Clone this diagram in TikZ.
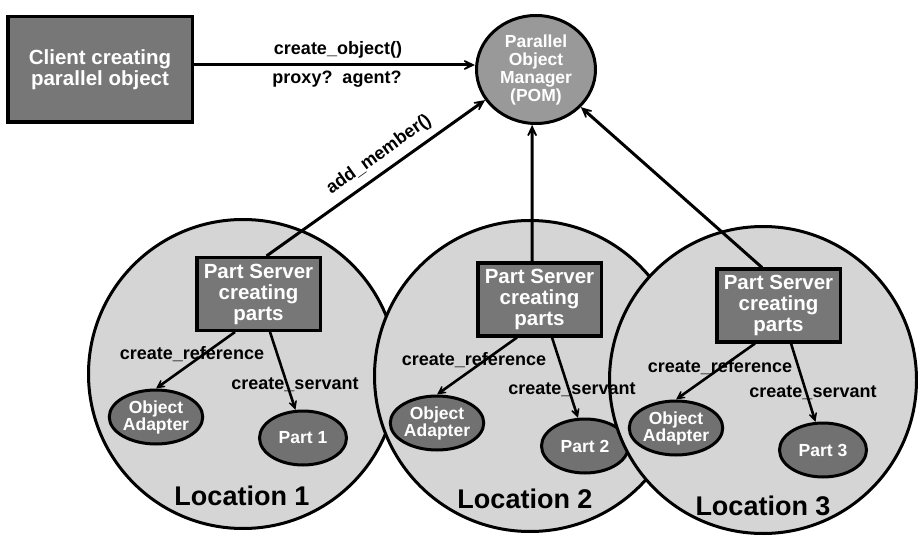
\documentclass[tikz,border=0pt]{standalone}
\usepackage{fontspec}
\setmainfont{Liberation Sans}
\usetikzlibrary{shapes.geometric,arrows.meta,calc}
\definecolor{locfill}{HTML}{D5D5D5}
\definecolor{boxfill}{HTML}{777777}
\definecolor{pomfill}{HTML}{999999}
\definecolor{ellfill}{HTML}{717171}
\begin{document}
\begin{tikzpicture}[x=1pt,y=-1pt,
  bigarr/.style={line width=3pt,-{Stealth[length=18pt,width=17pt,inset=12pt]}},
  smallarr/.style={line width=2.6pt,-{Stealth[length=14pt,width=14pt,inset=9pt]}},
  darkbox/.style={draw=black,line width=3.5pt,fill=boxfill,text=white,inner sep=0pt,align=center,
    font=\fontsize{20.5}{21}\selectfont\bfseries},
  loccircle/.style={circle,draw=black,line width=3pt,fill=locfill,inner sep=0pt},
  smallell/.style={ellipse,draw=black,line width=3pt,fill=ellfill,text=white,inner sep=0pt,align=center,
    minimum width=87pt,minimum height=54pt,font=\fontsize{17.5}{17}\selectfont\bfseries},
  lbl/.style={font=\fontsize{18}{18}\selectfont\bfseries,inner sep=0pt},
  loclbl/.style={font=\fontsize{27}{27}\selectfont\bfseries,anchor=base,inner sep=0pt}]
\useasboundingbox[fill=white] (0,0) rectangle (918,537);

% client and POM
\node[darkbox,minimum width=184.5pt,minimum height=105.5pt] (client) at (100,69.5) {Client creating\\parallel object};
\node[ellipse,draw=black,line width=3pt,fill=pomfill,text=white,inner sep=0pt,align=center,
  minimum width=119pt,minimum height=108pt,font=\fontsize{17.5}{18}\selectfont\bfseries] (pom) at (536,69.5)
  {Parallel\\Object\\Manager\\(POM)};

% Location 1
\node[loccircle,minimum size=309pt] (loc1) at (243,374) {};
\node[darkbox,minimum width=123.5pt,minimum height=72.5pt] (ps1) at (258.5,294) {Part Server\\creating\\parts};
\node[smallell] (oa1) at (156,417) {Object\\Adapter};
\node[smallell] (p1) at (303,438) {Part 1};
\node[loclbl] (l1) at (242,505) {Location 1};
\draw[smallarr] ($(ps1.south)+(-23.5,0)$) -- (oa1.north);
\draw[smallarr] ($(ps1.south)+(11.5,0)$) -- (p1.105);

% Location 2
\node[loccircle,minimum size=311pt] (loc2) at (530,376) {};
\node[darkbox,minimum width=123.5pt,minimum height=72.5pt] (ps2) at (539.5,299.5) {Part Server\\creating\\parts};
\node[smallell] (oa2) at (437,423) {Object\\Adapter};
\node[smallell] (p2) at (585,446) {Part 2};
\node[loclbl] (l2) at (525,508) {Location 2};
\draw[smallarr] ($(ps2.south)+(-22.5,0)$) -- (oa2.north);
\draw[smallarr] ($(ps2.south)+(12.5,0)$) -- (p2.104);

% Location 3
\node[loccircle,minimum size=307pt] (loc3) at (763,380) {};
\node[darkbox,minimum width=123.5pt,minimum height=72.5pt] (ps3) at (778.5,305.5) {Part Server\\creating\\parts};
\node[smallell] (oa3) at (676,428) {Object\\Adapter};
\node[smallell] (p3) at (823,450) {Part 3};
\node[loclbl] (l3) at (763,515) {Location 3};
\draw[smallarr] ($(ps3.south)+(-23.5,0)$) -- (oa3.north);
\draw[smallarr] ($(ps3.south)+(12.5,0)$) -- (p3.105);

% labels of the inner connectors (on top of all circles)
\node[lbl] (cr1) at (192,354) {create\_reference};
\node[lbl] (cs1) at (295,385) {create\_servant};
\node[lbl] (cr2) at (474,360) {create\_reference};
\node[lbl] (cs2) at (572,390) {create\_servant};
\node[lbl] (cr3) at (720,367) {create\_reference};
\node[lbl] (cs3) at (813,393) {create\_servant};

% main connectors
\draw[bigarr] ($(client.east)+(0,-4.5)$) -- ($(pom.west)+(0,-4.5)$);
\node[lbl] (co) at (338,50) {create\_object()};
\node[lbl] (pa) at (337,79) {proxy?\ \ agent?};
\draw[bigarr] ($(ps1.north)+(8,0)$) -- node[lbl,sloped,above=7pt,pos=0.56] (am) {add\_member()} (pom.211);
\draw[bigarr] ($(ps2.north)+(-7.5,0)$) -- (pom.266);
\draw[bigarr] ($(ps3.north)+(-16.5,0)$) -- (pom.320);
\end{tikzpicture}
\end{document}
